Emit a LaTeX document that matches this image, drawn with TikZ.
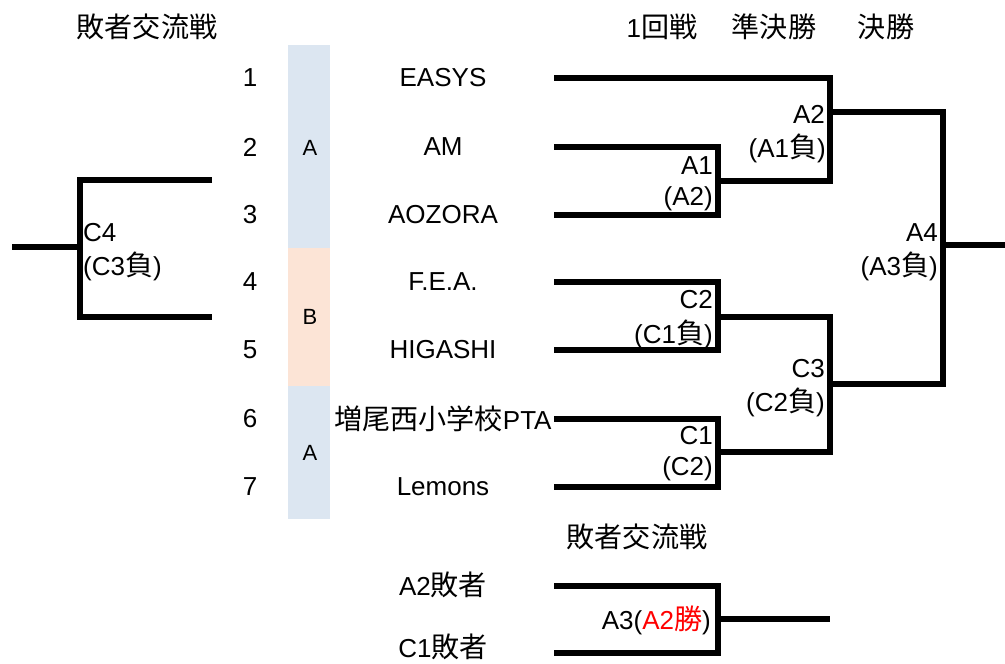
\documentclass[tikz,border=0pt]{standalone}
\usepackage{fontspec}
\setmainfont{Liberation Sans}
\newfontfamily\jp[Scale=1.08]{Noto Sans CJK JP}
\definecolor{barA}{HTML}{DCE6F1}
\definecolor{barB}{HTML}{FCE4D6}
\definecolor{redtxt}{HTML}{FF0000}
\begin{document}
\begin{tikzpicture}[x=1pt,y=-1pt,
  txt/.style={font=\fontsize{26}{30}\selectfont, inner sep=0pt},
  small/.style={font=\fontsize{22}{26}\selectfont, inner sep=0pt},
  lblr/.style={txt, anchor=east},
  lbll/.style={txt, anchor=west},
  br/.style={line width=5.5pt, line join=miter}]
\useasboundingbox (0,0) rectangle (1005,664);
% headers
\node[txt] (hLeft) at (147,27) {\jp 敗者交流戦};
\node[txt] (h1) at (662,27) {1\jp 回戦};
\node[txt] (h2) at (774,27) {\jp 準決勝};
\node[txt] (h3) at (886,27) {\jp 決勝};
\node[txt] (hBot) at (637,537) {\jp 敗者交流戦};
% bar
\fill[barA] (288,45) rectangle (330,248);
\fill[barB] (288,248) rectangle (330,386);
\fill[barA] (288,386) rectangle (330,519);
\node[small] (gA1) at (310,148) {A};
\node[small] (gB) at (310,317) {B};
\node[small] (gA2) at (310,453) {A};
% numbers and teams
\foreach \i/\y in {1/78,2/147,3/215,4/282,5/350,6/419,7/487}{
  \node[txt] (n\i) at (250,\y) {\i};
}
\node[txt] (t1) at (443,78) {EASYS};
\node[txt] (t2) at (443,147) {AM};
\node[txt] (t3) at (443,215) {AOZORA};
\node[txt] (t4) at (443,282) {F.E.A.};
\node[txt] (t5) at (443,350) {HIGASHI};
\node[txt] (t6) at (443,419) {{\jp 増尾西小学校}PTA};
\node[txt] (t7) at (443,487) {Lemons};
\node[txt] (t8) at (443,585) {A2{\jp 敗者}};
\node[txt] (t9) at (443,647) {C1{\jp 敗者}};
% bracket coordinates
\coordinate (s1) at (554,78);
\coordinate (s2) at (554,147);
\coordinate (s3) at (554,215);
\coordinate (s4) at (554,282);
\coordinate (s5) at (554,350);
\coordinate (s6) at (554,419);
\coordinate (s7) at (554,487);
\coordinate (jA1) at (718,181);
\coordinate (jA2) at (830,112);
\coordinate (jC2) at (718,317);
\coordinate (jC1) at (718,452);
\coordinate (jC3) at (830,384);
\coordinate (jA4) at (943,245);
\coordinate (eA4) at (1005,245);
\coordinate (l1) at (212,180);
\coordinate (l2) at (212,317);
\coordinate (jC4) at (80,247);
\coordinate (eC4) at (12,247);
\coordinate (b1) at (554,586);
\coordinate (b2) at (554,653);
\coordinate (jA3) at (718,619);
\coordinate (eA3) at (830,619);
% brackets
\draw[br] (s2) -| (jA1) |- (s3);
\draw[br] (s1) -| (jA2) |- (jA1);
\draw[br] (s4) -| (jC2) |- (s5);
\draw[br] (s6) -| (jC1) |- (s7);
\draw[br] (jC2) -| (jC3) |- (jC1);
\draw[br] (jA2) -| (jA4) |- (jC3);
\draw[br] (jA4) -- (eA4);
\draw[br] (l1) -| (jC4) |- (l2);
\draw[br] (jC4) -- (eC4);
\draw[br] (b1) -| (jA3) |- (b2);
\draw[br] (jA3) -- (eA3);
% labels
\node[lblr] (lA1a) at (713,166) {A1};
\node[lblr] (lA1b) at (713,199) {(A2)};
\node[lblr] (lA2a) at (825,114) {A2};
\node[lblr] (lA2b) at (826,148) {(A1{\jp 負})};
\node[lblr] (lA4a) at (938,233) {A4};
\node[lblr] (lA4b) at (938,266) {(A3{\jp 負})};
\node[lblr] (lC2a) at (713,300) {C2};
\node[lblr] (lC2b) at (713,334) {(C1{\jp 負})};
\node[lblr] (lC3a) at (825,369) {C3};
\node[lblr] (lC3b) at (825,402) {(C2{\jp 負})};
\node[lblr] (lC1a) at (713,436) {C1};
\node[lblr] (lC1b) at (713,469) {(C2)};
\node[lbll] (lC4a) at (83,233) {C4};
\node[lbll] (lC4b) at (83,266) {(C3{\jp 負})};
\node[lblr] (lA3) at (711,620) {A3(\textcolor{redtxt}{A2{\jp 勝}})};
\end{tikzpicture}
\end{document}
